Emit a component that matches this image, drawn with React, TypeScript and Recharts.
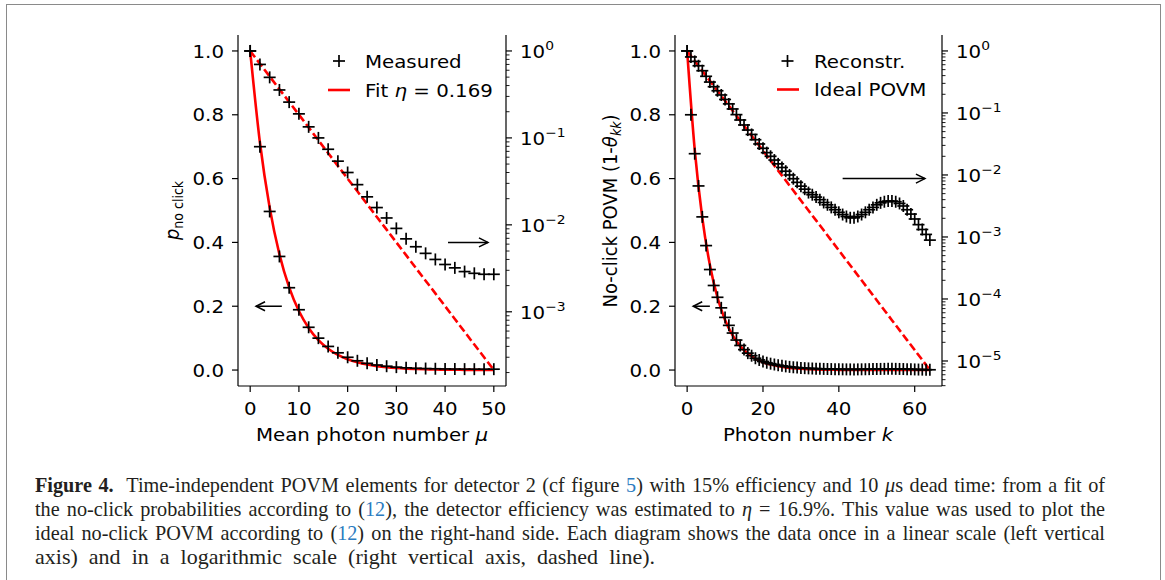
import React from 'react'
import { ComposedChart, Line, Scatter, XAxis, YAxis, ReferenceLine } from 'recharts'

const FONT = '"DejaVu Sans", sans-serif'
const FS = 18
const SX = 1.1
const RED = '#ff0000'

// left panel: no-click probability vs mean photon number
const muValues = [0, 2, 4, 6, 8, 10, 12, 14, 16, 18, 20, 22, 24, 26, 28, 30, 32, 34, 36, 38, 40, 42, 44, 46, 48, 50]
const measuredNoClick = [
  1.0, 0.7, 0.497, 0.356, 0.258, 0.189, 0.134, 0.1, 0.074, 0.054, 0.04, 0.029, 0.021, 0.0158, 0.012, 0.0091,
  0.0069, 0.0056, 0.0047, 0.004, 0.0035, 0.0032, 0.0029, 0.00277, 0.0027, 0.0027,
]
const fitNoClick = [
  1.0, 0.713, 0.509, 0.363, 0.259, 0.185, 0.132, 0.0938, 0.0669, 0.0477, 0.034, 0.0243, 0.0173, 0.0123, 0.00881,
  0.00628, 0.00448, 0.00319, 0.00228, 0.00163, 0.00116, 0.000826, 0.000589, 0.00042, 0.0003, 0.000214,
]

// right panel: reconstructed no-click POVM vs photon number
const photonK = [
  0, 1, 2, 3, 4, 5, 6, 7, 8, 9, 10, 11, 12, 13, 14, 15, 16, 17, 18, 19, 20, 21, 22, 23, 24, 25, 26, 27, 28, 29, 30, 31,
  32, 33, 34, 35, 36, 37, 38, 39, 40, 41, 42, 43, 44, 45, 46, 47, 48, 49, 50, 51, 52, 53, 54, 55, 56, 57, 58, 59, 60,
  61, 62, 63, 64,
]
const reconstrPovm = [
  1.0, 0.8, 0.678, 0.577, 0.48, 0.39, 0.315, 0.265, 0.228, 0.195, 0.165, 0.14, 0.116, 0.094, 0.077, 0.064, 0.053,
  0.045, 0.037, 0.0316, 0.0269, 0.0229, 0.02, 0.0174, 0.0151, 0.0132, 0.0115, 0.01, 0.0087, 0.0076, 0.0066, 0.0059,
  0.0052, 0.0048, 0.0044, 0.004, 0.0036, 0.0033, 0.003, 0.00275, 0.0025, 0.0023, 0.00214, 0.00204, 0.00204, 0.00214,
  0.0023, 0.0025, 0.00275, 0.003, 0.0033, 0.00355, 0.0037, 0.0038, 0.0038, 0.0037, 0.00347, 0.00316, 0.00275,
  0.00234, 0.00195, 0.00158, 0.00132, 0.0011, 0.00089,
]
const idealK = [0, 2, 4, 6, 8, 10, 12, 14, 16, 18, 20, 22, 24, 26, 28, 30, 32, 34, 36, 38, 40, 42, 44, 46, 48, 50, 52, 54, 56, 58, 60, 62, 64]
const idealPovm = [
  1.0, 0.6906, 0.4769, 0.3293, 0.2274, 0.157, 0.1084, 0.0749, 0.0517, 0.0357, 0.02466, 0.01703, 0.01176, 0.00812,
  0.00561, 0.00387, 0.00267, 0.00185, 0.00128, 0.000881, 0.000608, 0.00042, 0.00029, 0.0002, 0.000138, 0.0000955,
  0.000066, 0.0000455, 0.0000315, 0.0000217, 0.000015, 0.0000104, 0.0000071,
]

// axes
const linTicks = [0, 0.2, 0.4, 0.6, 0.8, 1.0]
const muTicks = [0, 10, 20, 30, 40, 50]
const kTicks = [0, 20, 40, 60]
const leftDecades = [0, -1, -2, -3, -4]
const rightDecades = [0, -1, -2, -3, -4, -5, -6]
const linDomain: [number, number] = [-0.05, 1.05]
const muDomain: [number, number] = [-2.5, 52.5]
const kDomain: [number, number] = [-3.2, 67.2]
const leftLogDomain: [number, number] = [1.401e-4, 1.526]
const rightLogDomain: [number, number] = [3.95e-6, 1.808]

// annotation arrows (data coordinates of the linear axes)
const leftArrows = [
  { from: 6.5, to: 1.2, y: 0.2 },
  { from: 40.6, to: 48.8, y: 0.4 },
]
const rightArrows = [
  { from: 6.0, to: 1.6, y: 0.2 },
  { from: 41, to: 62.7, y: 0.6 },
]

function logTicks(decades: number[], domain: [number, number]) {
  const out: number[] = []
  decades.forEach((e) => {
    for (let m = 1; m <= 9; m++) {
      const v = m * Math.pow(10, e)
      if (v >= domain[0] && v <= domain[1]) out.push(v)
    }
  })
  return out
}

const toPoints = (xs: number[], ys: number[]) => xs.map((x, i) => ({ x, y: ys[i] }))

function Plus({ cx, cy }: { cx: number; cy: number }) {
  const h = 6
  return (
    <g stroke="#000" strokeWidth={1.7}>
      <line x1={cx - h} x2={cx + h} y1={cy} y2={cy} />
      <line x1={cx} x2={cx} y1={cy - h} y2={cy + h} />
    </g>
  )
}

function SText({ x, y, anchor = 'start', size = FS, rotate = false, children }: any) {
  const t = rotate
    ? `translate(${x},${y}) rotate(-90) scale(1,${SX})`
    : `translate(${x},${y}) scale(${SX},1)`
  return (
    <text transform={t} textAnchor={anchor} fontFamily={FONT} fontSize={size} fill="#000">
      {children}
    </text>
  )
}

function XTick({ x, y, payload }: any) {
  return (
    <g>
      <line x1={x} x2={x} y1={y} y2={y + 6} stroke="#000" strokeWidth={1.2} />
      <SText x={x} y={y + 29} anchor="middle">
        {payload.value}
      </SText>
    </g>
  )
}

function LinTick({ x, y, payload }: any) {
  return (
    <g>
      <line x1={x - 6} x2={x} y1={y} y2={y} stroke="#000" strokeWidth={1.2} />
      <SText x={x - 14} y={y + 6.6} anchor="end">
        {Number(payload.value).toFixed(1)}
      </SText>
    </g>
  )
}

function LogTick({ x, y, payload }: any) {
  const lg = Math.log10(payload.value)
  const e = Math.round(lg)
  const major = Math.abs(lg - e) < 1e-6
  return (
    <g>
      <line x1={x} x2={x + (major ? 6 : 3.5)} y1={y} y2={y} stroke="#000" strokeWidth={major ? 1.2 : 0.9} />
      {major && (
        <SText x={x + 14} y={y + 7}>
          10
          <tspan dy={-7.5} fontSize={12.6}>
            {e === 0 ? '0' : '\u2212' + Math.abs(e)}
          </tspan>
        </SText>
      )}
    </g>
  )
}

function ArrowShape(p: any) {
  const { x1, y1, x2, y2 } = p
  const a = Math.atan2(y2 - y1, x2 - x1)
  const L = 9
  const W = 4.5
  const bx = x2 - L * Math.cos(a)
  const by = y2 - L * Math.sin(a)
  const nx = -Math.sin(a) * W
  const ny = Math.cos(a) * W
  return (
    <g stroke="#000" strokeWidth={1.5} fill="none">
      <line x1={x1} y1={y1} x2={x2} y2={y2} />
      <polyline points={`${bx + nx},${by + ny} ${x2},${y2} ${bx - nx},${by - ny}`} />
    </g>
  )
}

const spine = { stroke: '#000', strokeWidth: 1.2 }

function Panel({ margin, xDomain, xTicks, logDomain, logTickValues, markers, curve, arrows }: any) {
  return (
    <ComposedChart width={600} height={450} margin={margin}>
      <XAxis
        xAxisId="b"
        type="number"
        dataKey="x"
        domain={xDomain}
        ticks={xTicks}
        interval={0}
        allowDataOverflow
        height={50}
        tickSize={0}
        tickMargin={0}
        tickLine={false}
        axisLine={spine}
        tick={(p: any) => <XTick {...p} />}
      />
      <XAxis
        xAxisId="t"
        orientation="top"
        type="number"
        dataKey="x"
        domain={xDomain}
        allowDataOverflow
        height={0}
        tick={false}
        tickLine={false}
        axisLine={spine}
      />
      <YAxis
        yAxisId="lin"
        orientation="left"
        type="number"
        dataKey="y"
        domain={linDomain}
        ticks={linTicks}
        interval={0}
        allowDataOverflow
        width={60}
        tickSize={0}
        tickMargin={0}
        tickLine={false}
        axisLine={spine}
        tick={(p: any) => <LinTick {...p} />}
      />
      <YAxis
        yAxisId="log"
        orientation="right"
        type="number"
        dataKey="y"
        scale="log"
        domain={logDomain}
        ticks={logTickValues}
        interval={0}
        allowDataOverflow
        width={70}
        tickSize={0}
        tickMargin={0}
        tickLine={false}
        axisLine={spine}
        tick={(p: any) => <LogTick {...p} />}
      />
      <Scatter
        xAxisId="b"
        yAxisId="lin"
        data={markers}
        shape={(p: any) => <Plus cx={p.cx} cy={p.cy} />}
        isAnimationActive={false}
      />
      <Line
        xAxisId="b"
        yAxisId="lin"
        data={curve}
        dataKey="y"
        type="monotone"
        stroke={RED}
        strokeWidth={2.6}
        dot={false}
        activeDot={false}
        isAnimationActive={false}
      />
      <Scatter
        xAxisId="b"
        yAxisId="log"
        data={markers}
        shape={(p: any) => <Plus cx={p.cx} cy={p.cy} />}
        isAnimationActive={false}
      />
      <Line
        xAxisId="b"
        yAxisId="log"
        data={curve}
        dataKey="y"
        type="linear"
        stroke={RED}
        strokeWidth={2.6}
        strokeDasharray="8 3.5"
        dot={false}
        activeDot={false}
        isAnimationActive={false}
      />
      {arrows.map((a: any, i: number) => (
        <ReferenceLine
          key={i}
          xAxisId="b"
          yAxisId="lin"
          segment={[
            { x: a.from, y: a.y },
            { x: a.to, y: a.y },
          ]}
          ifOverflow="visible"
          shape={ArrowShape}
        />
      ))}
    </ComposedChart>
  )
}

function Overlay() {
  return (
    <svg width={1165} height={580} style={{ position: 'absolute', left: 0, top: 0, pointerEvents: 'none' }}>
      {/* left legend */}
      <Plus cx={339} cy={61} />
      <SText x={365} y={67.5}>Measured</SText>
      <line x1={328} x2={350} y1={90} y2={90} stroke={RED} strokeWidth={2.6} />
      <SText x={365} y={96.5}>
        Fit <tspan fontStyle="italic">η</tspan> = 0.169
      </SText>
      {/* right legend */}
      <Plus cx={787.5} cy={61} />
      <SText x={814} y={67.5}>Reconstr.</SText>
      <line x1={777} x2={799} y1={89.5} y2={89.5} stroke={RED} strokeWidth={2.6} />
      <SText x={814} y={96}>Ideal POVM</SText>
      {/* axis labels */}
      <SText x={372} y={441} anchor="middle">
        Mean photon number <tspan fontStyle="italic">μ</tspan>
      </SText>
      <SText x={808} y={441} anchor="middle">
        Photon number <tspan fontStyle="italic">k</tspan>
      </SText>
      <SText x={179} y={210.5} anchor="middle" rotate>
        <tspan fontStyle="italic">p</tspan>
        <tspan fontSize={12.6} dy={4}>
          no click
        </tspan>
      </SText>
      <SText x={617} y={211} anchor="middle" rotate>
        No-click POVM (1-<tspan fontStyle="italic">θ</tspan>
        <tspan fontStyle="italic" fontSize={12.6} dy={4}>
          kk
        </tspan>
        <tspan dy={-4}>)</tspan>
      </SText>
    </svg>
  )
}

const BLUE = '#2b7bc0'
const CAP_SCALE = 0.92

function CapLine({ width, scale = CAP_SCALE, children }: any) {
  return (
    <div
      style={{
        width: width / scale,
        height: 24,
        transform: `scaleX(${scale})`,
        transformOrigin: 'left top',
        textAlign: 'justify',
        textAlignLast: 'justify',
      }}
    >
      {children}
    </div>
  )
}

function Caption() {
  return (
    <div
      style={{
        position: 'absolute',
        left: 35,
        top: 473,
        fontFamily: '"Liberation Serif", serif',
        fontSize: 22,
        lineHeight: '24px',
        color: '#231f20',
      }}
    >
      <CapLine width={1070}>
        <b>Figure 4.</b>&nbsp; Time-independent POVM elements for detector 2 (cf figure{' '}
        <span style={{ color: BLUE }}>5</span>) with 15% efficiency and 10 <i>μ</i>s dead time: from a fit of
      </CapLine>
      <CapLine width={1070}>
        the no-click probabilities according to (<span style={{ color: BLUE }}>12</span>), the detector efficiency was
        estimated to <i>η</i> = 16.9%. This value was used to plot the
      </CapLine>
      <CapLine width={1070}>
        ideal no-click POVM according to (<span style={{ color: BLUE }}>12</span>) on the right-hand side. Each diagram
        shows the data once in a linear scale (left vertical
      </CapLine>
      <CapLine width={620} scale={1}>
        axis) and in a logarithmic scale (right vertical axis, dashed line).
      </CapLine>
    </div>
  )
}

export default function App() {
  return (
    <div
      style={{
        position: 'absolute',
        left: 0,
        top: 0,
        width: 1165,
        height: 580,
        background: '#fff',
        overflow: 'hidden',
      }}
    >
      <div
        style={{
          position: 'absolute',
          left: 6,
          top: 4,
          width: 1153,
          height: 600,
          borderLeft: '1.5px solid #8a8a8a',
          borderTop: '1.5px solid #8a8a8a',
          borderRight: '1.5px solid #8a8a8a',
        }}
      />
      <div style={{ position: 'absolute', left: 0, top: 0 }}>
        <Panel
          margin={{ top: 35, right: 24, bottom: 14, left: 178 }}
          xDomain={muDomain}
          xTicks={muTicks}
          logDomain={leftLogDomain}
          logTickValues={logTicks(leftDecades, leftLogDomain)}
          markers={toPoints(muValues, measuredNoClick)}
          curve={toPoints(muValues, fitNoClick)}
          arrows={leftArrows}
        />
      </div>
      <div style={{ position: 'absolute', left: 440, top: 0 }}>
        <Panel
          margin={{ top: 35, right: 28, bottom: 14, left: 175 }}
          xDomain={kDomain}
          xTicks={kTicks}
          logDomain={rightLogDomain}
          logTickValues={logTicks(rightDecades, rightLogDomain)}
          markers={toPoints(photonK, reconstrPovm)}
          curve={toPoints(idealK, idealPovm)}
          arrows={rightArrows}
        />
      </div>
      <Overlay />
      <Caption />
    </div>
  )
}
